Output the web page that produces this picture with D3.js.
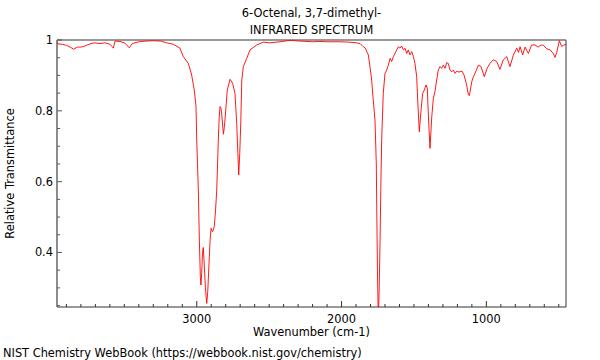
<!DOCTYPE html>
<html><head><meta charset="utf-8">
<script src="https://cdn.jsdelivr.net/npm/d3@7"></script>
<style>body{margin:0;background:#fff}svg{display:block}text{font-family:"DejaVu Sans",sans-serif;fill:#000}</style>
</head><body><svg id="c" width="600" height="360"></svg>
<script>
const titleLines = ["6-Octenal, 3,7-dimethyl-", "INFRARED SPECTRUM"];
const xLabel = "Wavenumber (cm-1)";
const yLabel = "Relative Transmittance";
const footer = "NIST Chemistry WebBook (https://webbook.nist.gov/chemistry)";
const xTicks = [3000, 2000, 1000];
const yTicks = [0.4, 0.6, 0.8, 1];
const wavenumber = [3965,3958,3930,3900,3875,3862,3850,3825,3800,3780,3737,3710,3668,3634,3600,3585,3576,3564,3530,3495,3466,3445,3400,3350,3300,3250,3207,3162,3116,3093,3058,3035,3017,3005,3000,2989,2982,2975,2971,2966,2960,2955,2950,2940,2931,2924,2913,2907,2901,2895,2890,2879,2870,2862,2851,2845,2839,2833,2828,2816,2810,2805,2789,2770,2752,2736,2724,2716,2710,2703,2696,2689,2678,2655,2632,2586,2540,2494,2425,2356,2287,2200,2149,2100,2011,1950,1895,1872,1850,1838,1815,1798,1792,1781,1769,1760,1757,1752,1746,1740,1734,1728,1723,1712,1700,1688,1677,1665,1654,1642,1631,1619,1608,1596,1585,1573,1562,1550,1539,1527,1515,1504,1493,1481,1474,1463,1451,1440,1428,1417,1408,1398,1389,1377,1366,1355,1343,1332,1320,1309,1297,1285,1274,1263,1251,1239,1228,1216,1205,1194,1182,1168,1154,1136,1124,1117,1101,1090,1078,1055,1037,1014,995,975,952,928,906,883,859,837,813,790,778,767,749,733,710,687,664,643,622,606,583,560,538,526,514,496,480,468,450];
const transmittance = [0.995,0.989,0.988,0.985,0.980,0.977,0.974,0.980,0.980,0.982,0.989,0.992,0.990,0.992,0.988,0.982,0.977,0.997,0.996,0.991,0.978,0.990,0.995,0.997,0.998,0.997,0.992,0.988,0.977,0.953,0.934,0.901,0.859,0.812,0.717,0.576,0.435,0.33,0.308,0.34,0.40,0.414,0.38,0.30,0.256,0.29,0.388,0.44,0.468,0.462,0.459,0.473,0.52,0.576,0.717,0.78,0.812,0.808,0.793,0.734,0.752,0.774,0.859,0.889,0.878,0.849,0.765,0.68,0.619,0.68,0.765,0.887,0.925,0.948,0.972,0.986,0.994,0.992,0.995,0.999,0.997,0.995,0.996,0.995,0.995,0.994,0.992,0.99,0.981,0.978,0.958,0.907,0.887,0.83,0.774,0.65,0.529,0.35,0.20,0.30,0.435,0.6,0.717,0.849,0.906,0.915,0.929,0.948,0.939,0.953,0.962,0.972,0.981,0.977,0.983,0.972,0.977,0.962,0.972,0.958,0.967,0.953,0.934,0.896,0.83,0.741,0.802,0.849,0.859,0.873,0.864,0.765,0.694,0.783,0.835,0.854,0.887,0.915,0.925,0.92,0.929,0.92,0.936,0.934,0.915,0.91,0.915,0.906,0.912,0.91,0.91,0.912,0.901,0.873,0.845,0.843,0.882,0.896,0.906,0.929,0.925,0.896,0.92,0.934,0.944,0.939,0.917,0.944,0.953,0.925,0.958,0.977,0.965,0.981,0.958,0.98,0.962,0.986,0.986,0.98,0.986,0.985,0.975,0.972,0.962,0.951,0.965,0.998,0.982,0.985,0.988];

const svg = d3.select("#c");
const L = 57, R = 566, T = 40, B = 307;
const FS = 11.4;
const x = d3.scaleLinear().domain([3965, 450]).range([L, R]);
const y = d3.scaleLinear().domain([0.246, 1.0]).range([B, T]);

svg.append("defs").append("clipPath").attr("id","clip")
  .append("rect").attr("x",L).attr("y",T).attr("width",R-L).attr("height",B-T);

// frame
svg.append("line").attr("x1",L).attr("x2",R).attr("y1",T).attr("y2",T).attr("stroke","#999").attr("stroke-width",2);
svg.append("line").attr("x1",R).attr("x2",R).attr("y1",T).attr("y2",B).attr("stroke","#555").attr("stroke-width",1.2);

// x axis ticks (inside)
const xMinor = d3.range(500, 3965, 100);
const gx = svg.append("g");
gx.selectAll("line.mn").data(xMinor).join("line")
  .attr("x1",d=>x(d)).attr("x2",d=>x(d)).attr("y1",B).attr("y2",d=>xTicks.includes(d)?B-6:B-3)
  .attr("stroke","#333").attr("stroke-width",1);
gx.selectAll("text").data(xTicks).join("text")
  .attr("x",d=>x(d)).attr("y",B+16).attr("text-anchor","middle").attr("font-size",FS).text(d=>d);
svg.append("line").attr("x1",L).attr("x2",R).attr("y1",B).attr("y2",B).attr("stroke","#333").attr("stroke-width",1.2);

// y axis ticks
const yMinor = d3.range(5, 21).map(i=>i*0.05).filter(v=>v>=0.246 && v<=1.0001);
const gy = svg.append("g");
gy.selectAll("line").data(yMinor).join("line")
  .attr("x1",L).attr("x2",d=>yTicks.some(t=>Math.abs(t-d)<1e-6)?L+5:L+3).attr("y1",d=>y(d)).attr("y2",d=>y(d))
  .attr("stroke","#555").attr("stroke-width",1);
gy.selectAll("text").data(yTicks).join("text")
  .attr("x",L-4).attr("y",d=>y(d)+4).attr("text-anchor","end").attr("font-size",FS).text(d=>d===1?"1":d.toFixed(1));
svg.append("line").attr("x1",L).attr("x2",L).attr("y1",T).attr("y2",B).attr("stroke","#666").attr("stroke-width",1.5);

// spectrum
const data = wavenumber.map((w,i)=>[w, transmittance[i]]);
svg.append("path").datum(data).attr("clip-path","url(#clip)")
  .attr("fill","none").attr("stroke","#ff0000").attr("stroke-width",0.9)
  .attr("d", d3.line().x(d=>x(d[0])).y(d=>y(d[1])));

// texts
svg.selectAll("text.title").data(titleLines).join("text").attr("class","title")
  .attr("x",(L+R)/2).attr("y",(d,i)=>17+i*17).attr("text-anchor","middle").attr("font-size",FS).text(d=>d);
svg.append("text").attr("x",(L+R)/2).attr("y",336).attr("text-anchor","middle").attr("font-size",FS).text(xLabel);
svg.append("text").attr("transform",`translate(14,${(T+B)/2}) rotate(-90)`).attr("text-anchor","middle").attr("font-size",FS).text(yLabel);
svg.append("text").attr("x",3).attr("y",357).attr("font-size",FS).text(footer);
</script></body></html>
